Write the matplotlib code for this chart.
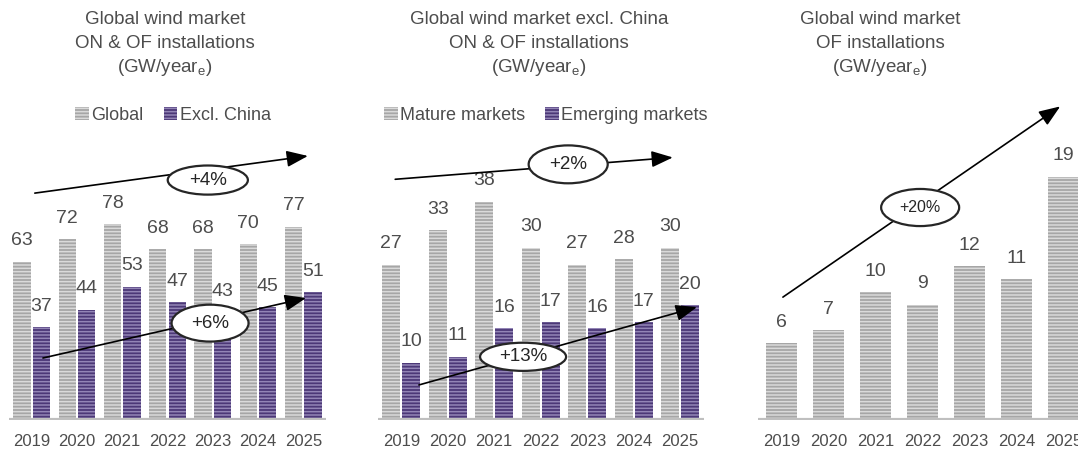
import matplotlib.pyplot as plt
import numpy as np
from matplotlib.patches import Ellipse

plt.rcParams['font.family'] = ['Liberation Sans', 'DejaVu Sans']
plt.rcParams['hatch.linewidth'] = 1.1

# Data (GW per year)
years = ['2019', '2020', '2021', '2022', '2023', '2024', '2025']
global_all = [63, 72, 78, 68, 68, 70, 77]
excl_china = [37, 44, 53, 47, 43, 45, 51]
mature = [27, 33, 38, 30, 27, 28, 30]
emerging = [10, 11, 16, 17, 16, 17, 20]
offshore = [6, 7, 10, 9, 12, 11, 19]

TXT = '#4d4d4d'
GREY_FACE, GREY_LINE = '#a6a6a6', '#dadada'
PURP_FACE, PURP_LINE = '#4c3877', '#9385b6'
HATCH = '-----'

W, H = 1078, 451
fig = plt.figure(figsize=(W / 100, H / 100), dpi=100)

bottom = (H - 420) / H
height = 320 / H
ax1 = fig.add_axes([9 / W, bottom, 317 / W, height])
ax2 = fig.add_axes([378 / W, bottom, 325.5 / W, height])
ax3 = fig.add_axes([758 / W, bottom, 329 / W, height])

x = np.arange(len(years))
bw, off = 0.38, 0.215


def style(ax, ytop):
    ax.set_xlim(-0.5, len(years) - 0.5)
    ax.set_ylim(0, ytop)
    for s in ax.spines.values():
        s.set_visible(False)
    ax.set_yticks([])
    ax.set_xticks(x)
    ax.set_xticklabels(years, fontsize=12, color=TXT)
    ax.tick_params(axis='x', length=0, pad=10)
    ax.axhline(0, color='#bfbfbf', lw=3, zorder=4)


def bars(ax, pos, vals, width, face, line, label=None):
    b = ax.bar(pos, vals, width, color=face, edgecolor=line, hatch=HATCH,
               linewidth=0, label=label, zorder=2)
    ax.bar_label(b, padding=9, fontsize=14, color=TXT)
    return b


def trend(ax, start, end, center, ew, eh, text, fs=13.5):
    ax.annotate('', xy=end, xytext=start,
                arrowprops=dict(arrowstyle='-|>,head_length=0.65,head_width=0.25',
                                color='black', lw=1.2, shrinkA=0, shrinkB=0,
                                mutation_scale=20),
                annotation_clip=False, zorder=5)
    ax.add_patch(Ellipse(center, ew, eh, facecolor='white', edgecolor='#262626',
                         lw=1.6, zorder=6, clip_on=False))
    ax.text(center[0], center[1], text, ha='center', va='center',
            fontsize=fs, color='#262626', zorder=7)


def title(xc, lines):
    for yy, t in zip([19, 43, 68], lines):
        fig.text(xc / W, 1 - yy / H, t, ha='center', va='center',
                 fontsize=13.5, color=TXT)


sub = '(GW/year$_\\mathregular{e}$)'

# Panel 1: global vs excl. China
style(ax1, 127.5)
bars(ax1, x - off, global_all, bw, GREY_FACE, GREY_LINE, 'Global')
bars(ax1, x + off, excl_china, bw, PURP_FACE, PURP_LINE, 'Excl. China')
trend(ax1, (0.07, 90.4), (6.1, 105.2), (3.89, 95.6), 1.77, 11.6, '+4%')
trend(ax1, (0.25, 24.7), (6.06, 48.6), (3.94, 38.6), 1.70, 14.7, '+6%')

# Panel 2: mature vs emerging markets
style(ax2, 55.7)
bars(ax2, x - off, mature, bw, GREY_FACE, GREY_LINE, 'Mature markets')
bars(ax2, x + off, emerging, bw, PURP_FACE, PURP_LINE, 'Emerging markets')
trend(ax2, (-0.13, 41.9), (5.84, 45.7), (3.59, 44.5), 1.70, 6.6, '+2%')
trend(ax2, (0.38, 6.1), (6.36, 19.65), (2.62, 11.0), 1.85, 4.9, '+13%')

# Panel 3: offshore only
style(ax3, 25.0)
bars(ax3, x, offshore, 0.66, GREY_FACE, GREY_LINE)
trend(ax3, (0.03, 9.6), (5.93, 24.5), (2.95, 16.6), 1.66, 2.9, '+20%', fs=11.5)

title(165, ['Global wind market', 'ON & OF installations', sub])
title(539, ['Global wind market excl. China', 'ON & OF installations', sub])
title(880, ['Global wind market', 'OF installations', sub])

for ax, xc in [(ax1, 173), (ax2, 546)]:
    ax.legend(ncol=2, loc='center', bbox_to_anchor=(xc / W, 1 - 115 / H),
              bbox_transform=fig.transFigure, frameon=False, fontsize=13,
              labelcolor=TXT, handlelength=0.75, handleheight=0.75,
              handletextpad=0.15, columnspacing=1.1)

fig.savefig('out.png', dpi=100)
